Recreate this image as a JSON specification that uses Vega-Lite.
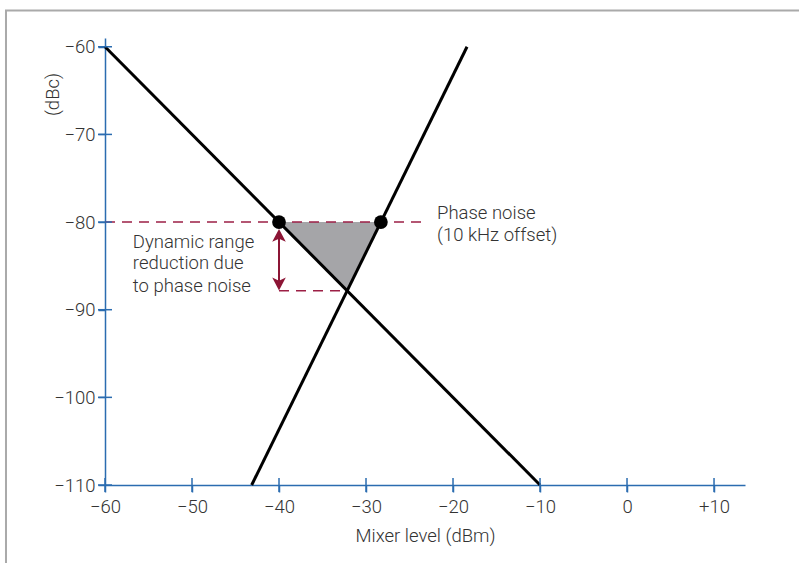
{
  "$schema": "https://vega.github.io/schema/vega-lite/v6.json",
  "width": 640,
  "height": 447,
  "autosize": "none",
  "padding": {"left": 105, "top": 38, "right": 54, "bottom": 78},
  "background": "white",
  "config": {"view": {"stroke": null}, "font": "Roboto"},
  "datasets": {
    "lines": [
      {"s": "A", "x": -60, "y": -60},
      {"s": "A", "x": -10, "y": -110},
      {"s": "B", "x": -43.14, "y": -110},
      {"s": "B", "x": -18.39, "y": -60}
    ],
    "tri": [
      {"x": -40, "y": -80, "y2": -80},
      {"x": -32.17, "y": -80, "y2": -87.83},
      {"x": -28.29, "y": -80, "y2": -80}
    ],
    "dots": [{"x": -40, "y": -80}, {"x": -28.29, "y": -80}],
    "dashes": [
      {"x": -60, "x2": -23.4, "y": -80},
      {"x": -40, "x2": -32.17, "y": -87.83}
    ],
    "arrow": [{"x": -40, "y": -81.3, "y2": -87.2}],
    "heads": [
      {"x": -40, "y": -80.8, "dir": "up"},
      {"x": -40, "y": -87.8, "dir": "down"}
    ],
    "labels": [
      {"t": "Dynamic range", "x": -56.8, "y": -82.27},
      {"t": "reduction due", "x": -56.8, "y": -84.67},
      {"t": "to phase noise", "x": -56.8, "y": -87.29},
      {"t": "Phase noise", "x": -21.84, "y": -78.97},
      {"t": "(10 kHz offset)", "x": -21.84, "y": -81.48}
    ],
    "xticks": [{"x": -60}, {"x": -50}, {"x": -40}, {"x": -30}, {"x": -20}, {"x": -10}, {"x": 0}, {"x": 10}],
    "yticks": [{"y": -60}, {"y": -70}, {"y": -80}, {"y": -90}, {"y": -100}, {"y": -110}],
    "frame": [{"x": -71.38, "x2": 30, "y": -55.86, "y2": -140}]
  },
  "encoding": {
    "x": {
      "type": "quantitative",
      "scale": {"domain": [-60, 13.56], "nice": false, "zero": false},
      "axis": {
        "values": [-60, -50, -40, -30, -20, -10, 0, 10],
        "labelExpr": "datum.value > 0 ? '+' + datum.label : datum.label",
        "labelFlush": false,
        "labelOverlap": false,
        "grid": false,
        "domainColor": "#2b6cb0",
        "domainWidth": 1.5,
        "tickColor": "#2b6cb0",
        "tickWidth": 1.5,
        "tickSize": 7,
        "labelFontSize": 18.5,
        "labelFontWeight": 300,
        "labelColor": "#333333",
        "labelPadding": 5,
        "title": "Mixer level (dBm)",
        "titleFontSize": 18.5,
        "titleFontWeight": 300,
        "titleColor": "#333333",
        "titlePadding": 11
      }
    },
    "y": {
      "type": "quantitative",
      "scale": {"domain": [-110, -59], "nice": false, "zero": false},
      "axis": {
        "values": [-110, -100, -90, -80, -70, -60],
        "labelFlush": false,
        "labelOverlap": false,
        "grid": false,
        "domainColor": "#2b6cb0",
        "domainWidth": 1.5,
        "tickColor": "#2b6cb0",
        "tickWidth": 1.5,
        "tickSize": 7,
        "labelFontSize": 18.5,
        "labelFontWeight": 300,
        "labelColor": "#333333",
        "labelPadding": 3,
        "title": "(dBc)",
        "titleFontSize": 18.5,
        "titleFontWeight": 300,
        "titleColor": "#333333",
        "titleX": -53,
        "titleY": 56,
        "titleAlign": "center",
        "titleBaseline": "middle",
        "titleAngle": -90
      }
    }
  },
  "layer": [
    {
      "data": {"name": "frame"},
      "mark": {"type": "rect", "filled": false, "stroke": "#aaaaaa", "strokeWidth": 2},
      "encoding": {"x": {"field": "x"}, "x2": {"field": "x2"}, "y": {"field": "y"}, "y2": {"field": "y2"}}
    },
    {
      "data": {"name": "tri"},
      "mark": {"type": "area", "color": "#a5a5a8", "opacity": 1},
      "encoding": {"x": {"field": "x"}, "y": {"field": "y"}, "y2": {"field": "y2"}}
    },
    {
      "data": {"name": "dashes"},
      "mark": {"type": "rule", "color": "#9c1f45", "strokeWidth": 1.5, "strokeDash": [10, 7]},
      "encoding": {"x": {"field": "x"}, "x2": {"field": "x2"}, "y": {"field": "y"}}
    },
    {
      "data": {"name": "lines"},
      "mark": {"type": "line", "color": "black", "strokeWidth": 3},
      "encoding": {"x": {"field": "x"}, "y": {"field": "y"}, "detail": {"field": "s"}}
    },
    {
      "data": {"name": "arrow"},
      "mark": {"type": "rule", "color": "#8c1535", "strokeWidth": 2},
      "encoding": {"x": {"field": "x"}, "y": {"field": "y"}, "y2": {"field": "y2"}}
    },
    {
      "data": {"name": "heads"},
      "mark": {"type": "point", "filled": true, "color": "#8c1535", "opacity": 1, "size": 256},
      "encoding": {
        "x": {"field": "x"},
        "y": {"field": "y"},
        "shape": {
          "field": "dir",
          "type": "nominal",
          "legend": null,
          "scale": {"domain": ["up", "down"], "range": ["M0,0L0.85,1.6L0,1.2L-0.85,1.6Z", "M0,0L0.85,-1.6L0,-1.2L-0.85,-1.6Z"]}
        }
      }
    },
    {
      "data": {"name": "dots"},
      "mark": {"type": "circle", "color": "black", "opacity": 1, "size": 190},
      "encoding": {"x": {"field": "x"}, "y": {"field": "y"}}
    },
    {
      "data": {"name": "labels"},
      "mark": {"type": "text", "align": "left", "baseline": "middle", "fontSize": 18.5, "fontWeight": 300, "color": "#333333"},
      "encoding": {"x": {"field": "x"}, "y": {"field": "y"}, "text": {"field": "t"}}
    },
    {
      "data": {"name": "xticks"},
      "mark": {"type": "tick", "orient": "vertical", "color": "#2b6cb0", "thickness": 1.5, "size": 14, "opacity": 1},
      "encoding": {"x": {"field": "x"}, "y": {"datum": -110}}
    },
    {
      "data": {"name": "yticks"},
      "mark": {"type": "tick", "orient": "horizontal", "color": "#2b6cb0", "thickness": 1.5, "size": 14, "opacity": 1},
      "encoding": {"y": {"field": "y"}, "x": {"datum": -60}}
    }
  ]
}
